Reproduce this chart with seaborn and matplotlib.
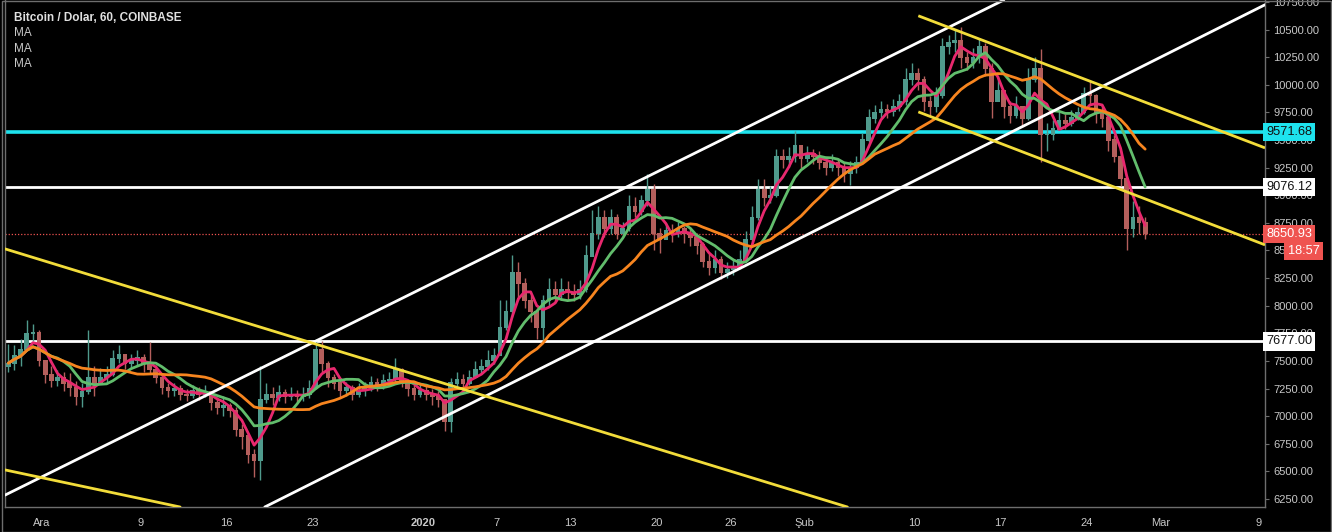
import numpy as np
import pandas as pd
import matplotlib
matplotlib.use("Agg")
import matplotlib.pyplot as plt
import seaborn as sns
from matplotlib.transforms import blended_transform_factory

# ---------------- data (12h candles) ----------------
first_candle = "2019-11-28 00:00"
open0 = 7450
close = [7480, 7550, 7600, 7750, 7760, 7500,
         7380, 7320, 7350, 7300, 7260, 7180, 7220, 7350, 7300, 7350, 7380, 7520, 7560, 7480, 7500, 7530,
         7480, 7420, 7350, 7260, 7230, 7250, 7200, 7190, 7230, 7200, 7220, 7120, 7080, 7100,
         7050, 6880, 6820, 6650, 6600, 7150, 7200, 7170, 7210, 7180, 7200, 7180, 7200, 7250,
         7600, 7480, 7350, 7300, 7230, 7260, 7200, 7230, 7250, 7300, 7280, 7320, 7330, 7420, 7300, 7250, 7200, 7230,
         7200, 7180, 7150, 6950, 7300, 7330, 7300, 7350, 7420, 7450, 7500, 7550,
         7800, 7950, 8300, 8200, 8050, 7950, 7800, 8050, 8150, 8100, 8150, 8120,
         8100, 8150, 8450, 8650, 8800, 8700, 8800, 8650, 8700, 8900, 8850, 8950, 9050, 8650,
         8600, 8680, 8650, 8700, 8650, 8620, 8550, 8400, 8350, 8420, 8300, 8330,
         8350, 8420, 8600, 8800, 9050, 8980, 9000, 9350, 9320, 9350, 9450, 9330,
         9380, 9350, 9300, 9250, 9300, 9250, 9200, 9250, 9300, 9500, 9700, 9750, 9780, 9760, 9800, 9850, 10050, 10100,
         10050, 9850, 9800, 9900, 10350, 10380, 10400, 10250, 10200, 10250, 10350, 10150, 9850, 9950,
         9800, 9720, 9800, 9700, 10050, 10150, 9550, 9550, 9600, 9680, 9650, 9700, 9750, 9920,
         9900, 9750, 9700, 9500, 9350, 9150, 8700, 8800, 8750, 8650.93]
high = [7650, 7640, 7700, 7870, 7830, 7780,
        7510, 7450, 7420, 7400, 7390, 7320, 7300, 7780, 7450, 7440, 7450, 7600, 7640, 7560, 7560, 7600,
        7560, 7670, 7460, 7380, 7300, 7300, 7280, 7250, 7280, 7260, 7280, 7230, 7170, 7180,
        7120, 7080, 6930, 6850, 6700, 7450, 7300, 7260, 7280, 7250, 7260, 7240, 7260, 7330,
        7700, 7680, 7500, 7380, 7330, 7310, 7280, 7300, 7310, 7360, 7350, 7380, 7400, 7530, 7440, 7330, 7280, 7300,
        7270, 7250, 7230, 7150, 7350, 7400, 7380, 7420, 7500, 7520, 7600, 7620,
        8050, 8050, 8460, 8400, 8250, 8100, 7980, 8100, 8250, 8220, 8250, 8220,
        8200, 8230, 8550, 8870, 8900, 8870, 8880, 8830, 8760, 9000, 8980, 9000, 9190, 9100,
        8700, 8750, 8740, 8760, 8720, 8700, 8660, 8580, 8480, 8500, 8450, 8400,
        8420, 8500, 8680, 8900, 9150, 9150, 9080, 9420, 9420, 9440, 9580, 9450,
        9450, 9420, 9400, 9350, 9370, 9330, 9300, 9310, 9360, 9560, 9780, 9820, 9850, 9830, 9870, 9920, 10150, 10200,
        10150, 10080, 9900, 9980, 10420, 10450, 10500, 10520, 10300, 10330, 10420, 10380, 10200, 10080,
        9950, 9850, 9900, 9800, 10150, 10250, 10320, 9650, 9680, 9760, 9740, 9770, 9800, 9980,
        10040, 9920, 9820, 9720, 9550, 9400, 9150, 8950, 8900, 8800]
low = [7400, 7420, 7450, 7600, 7680, 7450,
       7300, 7260, 7270, 7230, 7180, 7100, 7080, 7200, 7180, 7290, 7300, 7360, 7480, 7430, 7440, 7460,
       7400, 7380, 7300, 7200, 7170, 7180, 7150, 7140, 7160, 7150, 7170, 7060, 7020, 7000,
       6990, 6820, 6700, 6580, 6450, 6420, 7120, 7100, 7140, 7120, 7150, 7130, 7140, 7160,
       7250, 7400, 7260, 7250, 7170, 7180, 7150, 7170, 7180, 7230, 7230, 7250, 7270, 7300, 7260, 7180, 7150, 7170,
       7150, 7100, 7080, 6870, 6860, 7250, 7240, 7280, 7350, 7380, 7420, 7470,
       7550, 7780, 7900, 8050, 7980, 7850, 7700, 7670, 8000, 8030, 8050, 8050,
       8040, 8060, 8120, 8450, 8600, 8620, 8650, 8600, 8620, 8680, 8800, 8820, 8900, 8500,
       8480, 8600, 8580, 8620, 8570, 8540, 8470, 8350, 8280, 8300, 8240, 8250,
       8280, 8330, 8400, 8580, 8780, 8900, 8930, 8980, 9250, 9260, 9300, 9250,
       9300, 9280, 9240, 9180, 9220, 9170, 9120, 9090, 9200, 9280, 9480, 9650, 9700, 9700, 9720, 9760, 9820, 10000,
       9950, 9760, 9720, 9750, 9880, 10280, 10300, 10150, 10130, 10150, 10200, 10080, 9700, 9850,
       9700, 9650, 9700, 9620, 9680, 10030, 9300, 9400, 9500, 9600, 9600, 9630, 9680, 9740,
       9820, 9650, 9620, 9400, 9300, 9080, 8500, 8620, 8650, 8600]

ma_windows = [4, 8, 17]  # 12h candles ~ 50h / 100h / 200h
ma_colors = ["#e8286e", "#62bd6c", "#f7851f"]

# key levels
h_levels = [9571.68, 9076.12, 7677.00]
last_price = 8650.93
countdown = "18:57"

# trend lines: (date, price) anchor pairs
white_lines = [(("2019-12-22 23:00", 7663), ("2020-02-16 23:00", 10752)),
               (("2019-12-19 03:00", 6178), ("2020-03-09 12:00", 10725))]
yellow_full = [(("2019-11-28 00:00", 8514), ("2019-12-22 23:00", 7663)),
               (("2019-11-28 00:00", 6513), ("2019-12-12 05:00", 6178))]
yellow_rays = [(("2020-02-10 07:00", 10625), ("2020-03-09 12:00", 9429)),
               (("2020-02-10 07:00", 9755), ("2020-03-09 12:00", 8551))]

tick_dates = ["2019-12-01", "2019-12-09", "2019-12-16", "2019-12-23", "2020-01-01", "2020-01-07",
              "2020-01-13", "2020-01-20", "2020-01-26", "2020-02-01", "2020-02-10", "2020-02-17",
              "2020-02-24", "2020-03-01", "2020-03-09"]
tick_labels = ["Ara", "9", "16", "23", "2020", "7", "13", "20", "26", "Şub", "10", "17", "24", "Mar", "9"]
y_ticks = np.arange(6250, 10751, 250)

# ---------------- style ----------------
sns.set_style("dark", {"axes.facecolor": "black", "figure.facecolor": "black"})
plt.rcParams['font.family'] = ['Liberation Sans', 'DejaVu Sans']

ref = pd.Timestamp("2019-12-01")
def dnum(s):
    return (pd.Timestamp(s) - ref) / pd.Timedelta(days=1)

times = pd.date_range(first_candle, periods=len(close), freq="12h")
x = ((times - ref) / pd.Timedelta(days=1)).to_numpy() + 0.25
c = np.array(close, dtype=float)
o = np.concatenate([[open0], c[:-1]])
h = np.array(high, dtype=float)
l = np.array(low, dtype=float)

fig = plt.figure(figsize=(13.32, 5.32), dpi=100)
fig.patch.set_facecolor("black")
ax = fig.add_axes([5 / 1332, 25 / 532, 1260 / 1332, 507 / 532])
ax.set_facecolor("black")

xmin, xmax = -3.02, 99.5
ymin, ymax = 6177.6, 10768
ax.set_xlim(xmin, xmax)
ax.set_ylim(ymin, ymax)

# horizontal levels
ax.axhline(h_levels[0], color="#1ee3ee", lw=2.6, zorder=2)
ax.axhline(h_levels[1], color="white", lw=2.0, zorder=2)
ax.axhline(h_levels[2], color="white", lw=2.0, zorder=2)
ax.axhline(last_price, color="#ef5350", lw=0.9, ls=(0, (1, 1.5)), zorder=2)

# candles
up = c >= o
up_col, dn_col = "#4f9a8c", "#b45f5c"
cols = np.where(up, up_col, dn_col)
ax.vlines(x, l, h, colors=cols, lw=1.0, zorder=3)
ax.bar(x, np.abs(c - o) + 10, bottom=np.minimum(o, c) - 5, width=0.38, color=cols, zorder=3, linewidth=0)

# moving averages via seaborn
ser = pd.Series(c)
ma_df = pd.concat([pd.DataFrame({"day": x, "value": ser.rolling(w, min_periods=1).mean().to_numpy(),
                                 "ma": f"MA{w}"}) for w in ma_windows], ignore_index=True)
sns.lineplot(data=ma_df, x="day", y="value", hue="ma", palette=ma_colors, linewidth=2.0,
             legend=False, ax=ax, zorder=4)

# trend lines
for (p1, p2) in white_lines:
    ax.axline((dnum(p1[0]), p1[1]), (dnum(p2[0]), p2[1]), color="white", lw=2.0, zorder=5)
for (p1, p2) in yellow_full:
    ax.axline((dnum(p1[0]), p1[1]), (dnum(p2[0]), p2[1]), color="#f2dc3a", lw=2.0, zorder=5)
for (p1, p2) in yellow_rays:
    ax.plot([dnum(p1[0]), dnum(p2[0])], [p1[1], p2[1]], color="#f2dc3a", lw=2.0, zorder=5,
            solid_capstyle="butt")

# axes look
ax.grid(False)
ax.spines["top"].set_visible(False)
for s in ["left", "right", "bottom"]:
    ax.spines[s].set_color("#6e6e6e")
    ax.spines[s].set_linewidth(1.0)

ax.yaxis.tick_right()
ax.set_yticks(y_ticks)
ax.set_yticklabels([f"{v:.2f}" for v in y_ticks])
ax.set_xticks([dnum(d) for d in tick_dates])
ax.set_xticklabels(tick_labels)
ax.tick_params(axis="both", colors="#6e6e6e", labelcolor="#c8c8c8", labelsize=8, length=3,
               direction="out", width=0.8)
ax.tick_params(axis="y", pad=3)
ax.tick_params(axis="x", pad=5)
for lab in ax.get_xticklabels():
    if lab.get_text() == "2020":
        lab.set_fontweight("bold")
ax.set_xlabel("")
ax.set_ylabel("")

# price labels on the right axis
tr = blended_transform_factory(ax.transAxes, ax.transData)
def price_tag(yv, text, fc, tc, xpos=1.0008):
    ax.text(xpos, yv, text, transform=tr, ha="left", va="center", fontsize=9.2, color=tc,
            clip_on=False, zorder=20,
            bbox=dict(boxstyle="square,pad=0.25", fc=fc, ec="none"))

price_tag(h_levels[0], f"{h_levels[0]:.2f}", "#1ee3ee", "#111111")
price_tag(h_levels[1], f"{h_levels[1]:.2f}", "white", "#111111")
price_tag(h_levels[2], f"{h_levels[2]:.2f}", "white", "#111111")
price_tag(last_price, f"{last_price:.2f}", "#ef5350", "white")
price_tag(8495, countdown, "#ef5350", "white", xpos=1.018)

# legend-like header
ax.text(0.0075, 0.965, "Bitcoin / Dolar, 60, COINBASE", transform=ax.transAxes, fontsize=8.5,
        fontweight="bold", color="#e0e0e0", va="center", ha="left")
for k in range(3):
    ax.text(0.0075, 0.935 - 0.031 * k, "MA", transform=ax.transAxes, fontsize=8.5,
            color="#c8c8c8", va="center", ha="left")

# outer frame
fig.add_artist(plt.Rectangle((2 / 1332, 0.5 / 532), 1329 / 1332, 531 / 532, transform=fig.transFigure,
                             fill=False, ec="#6e6e6e", lw=1.0))

fig.savefig("out.png", dpi=100, facecolor="black")
